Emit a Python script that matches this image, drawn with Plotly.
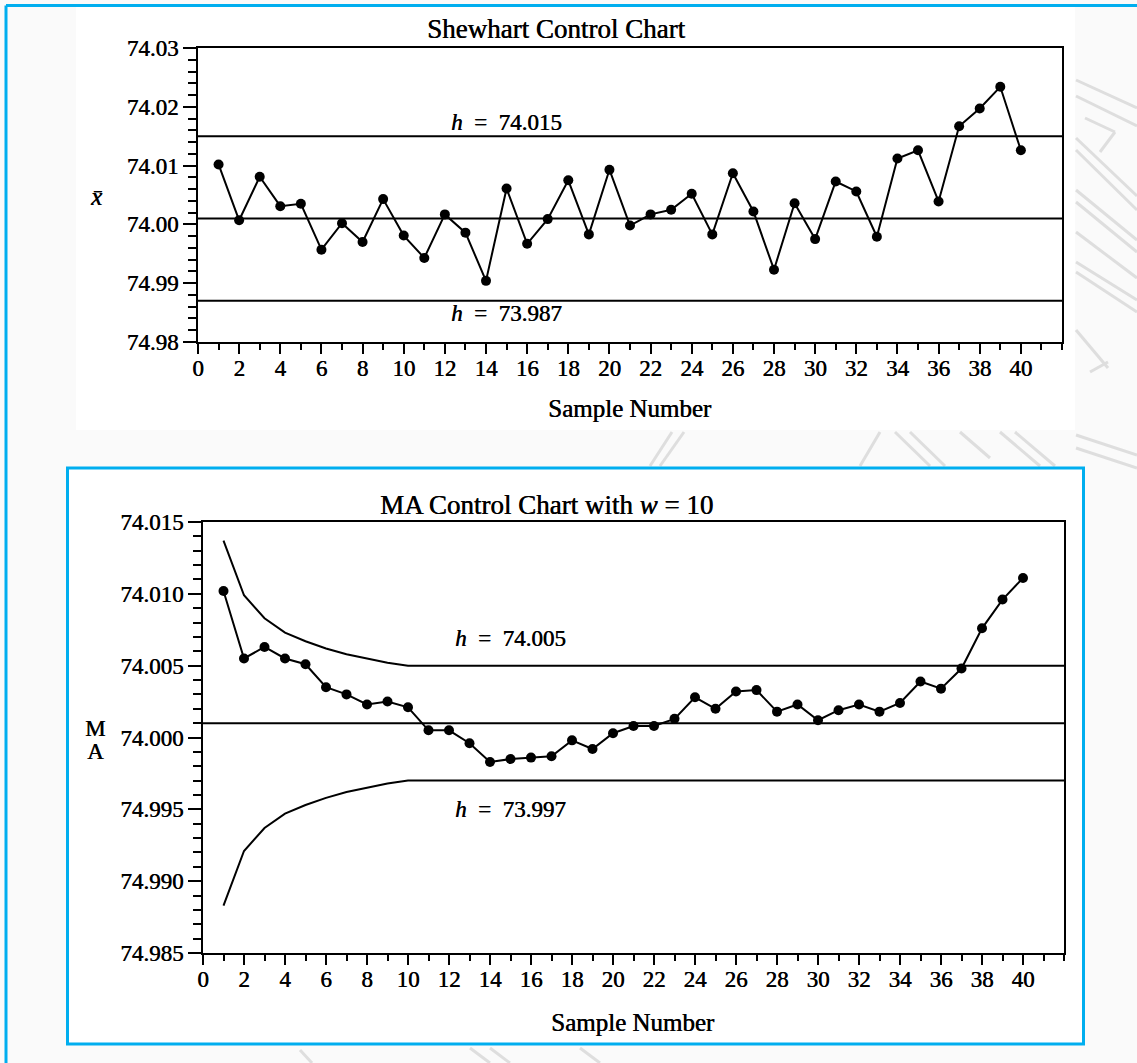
import plotly.graph_objects as go

# Canvas size in pixels
W, H = 1137, 1063

# ---------------- data ----------------
samples = list(range(1, 41))

# Sample means (x-bar) for the Shewhart chart
xbar = [74.0102, 74.0007, 74.0081, 74.0031, 74.0035, 73.9957, 74.0002, 73.9970,
        74.0043, 73.9981, 73.9943, 74.0017, 73.9986, 73.9904, 74.0061, 73.9967,
        74.0009, 74.0075, 73.9983, 74.0093, 73.9998, 74.0017, 74.0025, 74.0052,
        73.9983, 74.0087, 74.0022, 73.9923, 74.0036, 73.9975, 74.0073, 74.0056,
        73.9979, 74.0112, 74.0126, 74.0039, 74.0167, 74.0197, 74.0234, 74.0126]

# Moving averages (span w = 10)
ma = [74.0102, 74.0055, 74.0063, 74.0055, 74.0051, 74.0035, 74.0030, 74.0023,
      74.0025, 74.0021, 74.0005, 74.0005, 73.9996, 73.9983, 73.9985, 73.9986,
      73.9987, 73.9998, 73.9992, 74.0003, 74.0008, 74.0008, 74.0013, 74.0028,
      74.0020, 74.0032, 74.0033, 74.0018, 74.0023, 74.0012, 74.0019, 74.0023,
      74.0018, 74.0024, 74.0039, 74.0034, 74.0048, 74.0076, 74.0096, 74.0111]

# Shewhart control limits and centre line
shew_ucl = 74.015
shew_cl = 74.001
shew_lcl = 73.987

# MA chart: centre line, widening limits for the first w samples, steady limits after
ma_cl = 74.001
ma_limit_samples = [1, 2, 3, 4, 5, 6, 7, 8, 9, 10]
ma_ucl = [74.0137, 74.0099, 74.0083, 74.0073, 74.0067, 74.0062, 74.0058, 74.0055, 74.0052, 74.0050]
ma_lcl = [73.9883, 73.9921, 73.9937, 73.9947, 73.9953, 73.9958, 73.9962, 73.9965, 73.9968, 73.9970]
ma_h_upper = 74.005
ma_h_lower = 73.997

# Axis ticks
x_tick_vals = list(range(0, 41, 2))
x_tick_text = [str(v) for v in x_tick_vals]
top_ytick_vals = [73.98, 73.99, 74.00, 74.01, 74.02, 74.03]
top_ytick_text = ["74.98", "74.99", "74.00", "74.01", "74.02", "74.03"]
bot_ytick_vals = [73.985, 73.990, 73.995, 74.000, 74.005, 74.010, 74.015]
bot_ytick_text = ["74.985", "74.990", "74.995", "74.000", "74.005", "74.010", "74.015"]

X_MIN, X_MAX = 0, 42
TOP_YRANGE = [73.98, 74.03]
BOT_YRANGE = [73.985, 74.015]

# ---------------- styling helpers ----------------
FONT = "Liberation Serif"
INK = "black"
FRAME_BLUE = "#00AEEF"
WATERMARK = "#dedede"
THICKEN = "0.5px 0 0 #000"   # slightly heavier glyph strokes


def px(x):
    return x / W


def py(y):
    return 1 - y / H


def font(size):
    return dict(family=FONT, size=size, color=INK, shadow=THICKEN)


def x_axis(domain, anchor):
    return dict(
        domain=domain, anchor=anchor, range=[X_MIN, X_MAX], automargin=False,
        showline=True, linecolor=INK, linewidth=2, mirror=True,
        ticks="outside", ticklen=10, tickwidth=2, tickcolor=INK,
        tickmode="array", tickvals=x_tick_vals, ticktext=x_tick_text,
        tickfont=font(23), ticklabelstandoff=-6,
        minor=dict(ticks="outside", tick0=0, dtick=1, ticklen=6, tickwidth=2, tickcolor=INK),
        showgrid=False, zeroline=False, fixedrange=True,
    )


def y_axis(domain, anchor, rng, vals, text, minor_dtick):
    return dict(
        domain=domain, anchor=anchor, range=rng, automargin=False,
        showline=True, linecolor=INK, linewidth=2, mirror=True,
        ticks="outside", ticklen=13, tickwidth=2, tickcolor=INK,
        tickmode="array", tickvals=vals, ticktext=text,
        tickfont=font(23),
        minor=dict(ticks="outside", tick0=rng[0], dtick=minor_dtick, ticklen=8, tickwidth=2, tickcolor=INK),
        showgrid=False, zeroline=False, fixedrange=True,
    )


fig = go.Figure()

# ---------------- Shewhart chart (top) ----------------
for level in (shew_ucl, shew_cl, shew_lcl):
    fig.add_trace(go.Scatter(
        x=[X_MIN, X_MAX], y=[level, level], mode="lines",
        line=dict(color=INK, width=2), xaxis="x", yaxis="y",
        showlegend=False, hoverinfo="skip",
    ))

fig.add_trace(go.Scatter(
    x=samples, y=xbar, mode="lines+markers",
    line=dict(color=INK, width=2), marker=dict(color=INK, size=10),
    xaxis="x", yaxis="y", showlegend=False,
))

# ---------------- MA chart (bottom) ----------------
fig.add_trace(go.Scatter(
    x=[X_MIN, X_MAX], y=[ma_cl, ma_cl], mode="lines",
    line=dict(color=INK, width=2), xaxis="x2", yaxis="y2",
    showlegend=False, hoverinfo="skip",
))
for lim, steady in ((ma_ucl, ma_h_upper), (ma_lcl, ma_h_lower)):
    fig.add_trace(go.Scatter(
        x=ma_limit_samples + [X_MAX], y=lim + [steady], mode="lines",
        line=dict(color=INK, width=2), xaxis="x2", yaxis="y2",
        showlegend=False, hoverinfo="skip",
    ))

fig.add_trace(go.Scatter(
    x=samples, y=ma, mode="lines+markers",
    line=dict(color=INK, width=2), marker=dict(color=INK, size=10),
    xaxis="x2", yaxis="y2", showlegend=False,
))

# ---------------- background panels, faint page pattern and frames ----------------
shapes = [
    # white page areas behind each chart
    dict(type="rect", xref="paper", yref="paper", x0=px(76), x1=px(1075), y0=py(430), y1=py(7),
         fillcolor="white", line=dict(width=0), layer="below"),
    dict(type="rect", xref="paper", yref="paper", x0=px(67.5), x1=px(1083.5), y0=py(1044), y1=py(468),
         fillcolor="white", line=dict(width=0), layer="below"),
]

# faint grey strokes of the page background pattern (pixel end points)
pattern_strokes = [
    (1076, 80, 1137, 108), (1076, 96, 1137, 126), (1085, 118, 1115, 132), (1115, 132, 1100, 152),
    (1076, 138, 1137, 196), (1076, 150, 1137, 210), (1076, 190, 1137, 240), (1076, 202, 1137, 252),
    (1076, 232, 1137, 278), (1076, 262, 1137, 300), (1076, 272, 1137, 312),
    (1076, 330, 1108, 368), (1090, 372, 1108, 362),
    (650, 466, 672, 432), (660, 466, 684, 432), (860, 466, 880, 432), (895, 432, 930, 466),
    (910, 432, 945, 466), (960, 432, 990, 458), (1000, 432, 1040, 466), (1015, 432, 1055, 466),
    (1076, 435, 1137, 455), (1076, 448, 1137, 468),
    (470, 1048, 490, 1063), (490, 1048, 510, 1063), (580, 1048, 600, 1063), (300, 1050, 312, 1063),
]
for x0, y0, x1, y1 in pattern_strokes:
    shapes.append(dict(type="line", xref="paper", yref="paper", x0=px(x0), y0=py(y0), x1=px(x1), y1=py(y1),
                       line=dict(color=WATERMARK, width=3), layer="below"))

shapes += [
    # outer blue frame (left and top edges)
    dict(type="line", xref="paper", yref="paper", x0=px(6), x1=px(6), y0=0, y1=py(5.5),
         line=dict(color=FRAME_BLUE, width=3)),
    dict(type="line", xref="paper", yref="paper", x0=px(6), x1=1, y0=py(5.5), y1=py(5.5),
         line=dict(color=FRAME_BLUE, width=3)),
    # blue frame around the MA chart
    dict(type="rect", xref="paper", yref="paper", x0=px(67.5), x1=px(1083.5), y0=py(1044), y1=py(468),
         line=dict(color=FRAME_BLUE, width=3)),
]

annotation_font = font(23)
title_font = font(27)
axis_title_font = font(25)
SP = "\u2002"  # wider spacing around the equals sign


def h_label(value):
    return f"<i>h</i>{SP}={SP}{value:.3f}"


annotations = [
    # top chart texts
    dict(text="Shewhart Control Chart", x=px(556), y=py(29), xref="paper", yref="paper",
         xanchor="center", yanchor="middle", showarrow=False, font=title_font),
    dict(text="Sample Number", x=px(630), y=py(408), xref="paper", yref="paper",
         xanchor="center", yanchor="middle", showarrow=False, font=axis_title_font),
    dict(text="<i>x̄</i>", x=px(96), y=py(196), xref="paper", yref="paper",
         xanchor="center", yanchor="middle", showarrow=False, font=font(25)),
    dict(text=h_label(shew_ucl), x=15, y=shew_ucl, xref="x", yref="y",
         xanchor="center", yanchor="middle", yshift=14, showarrow=False, font=annotation_font),
    dict(text=h_label(shew_lcl), x=15, y=shew_lcl, xref="x", yref="y",
         xanchor="center", yanchor="middle", yshift=-13, showarrow=False, font=annotation_font),
    # bottom chart texts
    dict(text="MA Control Chart with <i>w</i> = 10", x=px(546), y=py(505), xref="paper", yref="paper",
         xanchor="center", yanchor="middle", showarrow=False, font=title_font),
    dict(text="Sample Number", x=px(633), y=py(1022), xref="paper", yref="paper",
         xanchor="center", yanchor="middle", showarrow=False, font=axis_title_font),
    dict(text="M", x=px(95), y=py(728), xref="paper", yref="paper",
         xanchor="center", yanchor="middle", showarrow=False, font=font(23)),
    dict(text="A", x=px(95), y=py(751), xref="paper", yref="paper",
         xanchor="center", yanchor="middle", showarrow=False, font=font(23)),
    dict(text=h_label(ma_h_upper), x=15, y=ma_h_upper, xref="x2", yref="y2",
         xanchor="center", yanchor="middle", yshift=27, showarrow=False, font=annotation_font),
    dict(text=h_label(ma_h_lower), x=15, y=ma_h_lower, xref="x2", yref="y2",
         xanchor="center", yanchor="middle", yshift=-29, showarrow=False, font=annotation_font),
]

fig.update_layout(
    width=W, height=H,
    margin=dict(l=0, r=0, t=0, b=0, pad=0, autoexpand=False),
    paper_bgcolor="#FAFAFA",
    plot_bgcolor="white",
    showlegend=False,
    xaxis=x_axis([px(198), px(1062)], "y"),
    yaxis=y_axis([py(342), py(48)], "x", TOP_YRANGE, top_ytick_vals, top_ytick_text, 0.002),
    xaxis2=x_axis([px(203), px(1064)], "y2"),
    yaxis2=y_axis([py(953), py(522)], "x2", BOT_YRANGE, bot_ytick_vals, bot_ytick_text, 0.001),
    shapes=shapes,
    annotations=annotations,
)

fig.write_html("out.html")
